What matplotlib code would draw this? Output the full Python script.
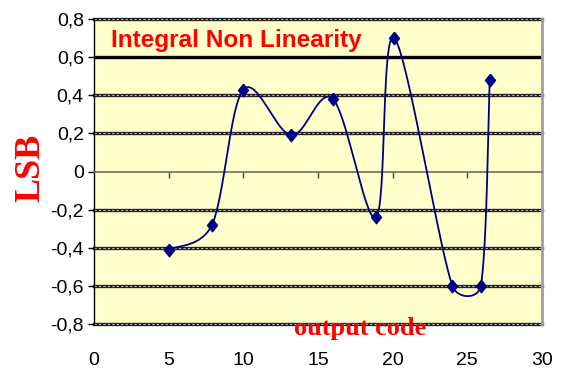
import numpy as np
import matplotlib
matplotlib.use("Agg")
import matplotlib.pyplot as plt
from matplotlib.path import Path

# INL measurement, LSB vs output code
codes = [5, 7.9, 10, 13.2, 16, 18.9, 20.1, 24, 25.9, 26.5]
inl = [-0.41, -0.28, 0.43, 0.19, 0.38, -0.24, 0.70, -0.60, -0.60, 0.48]

yticks = [-0.8, -0.6, -0.4, -0.2, 0, 0.2, 0.4, 0.6, 0.8]
ylabels = ["-0,8", "-0,6", "-0,4", "-0,2", "0", "0,2", "0,4", "0,6", "0,8"]
xticks = [0, 5, 10, 15, 20, 25, 30]
xlabels = ["0", "5", "10", "15", "20", "25", "30"]

RED = "#FF0000"
NAVY = "#000080"


def smooth_curve(pix, n=40):
    """Excel-like smoothed line: Bezier segments, tangents (P2-P0)/6,
    capped at half the segment length (works in pixel space)."""
    out = []
    last = len(pix) - 1
    for i in range(last):
        p0 = pix[max(i - 1, 0)]
        p1 = pix[i]
        p2 = pix[i + 1]
        p3 = pix[min(i + 2, last)]
        seg = np.hypot(*(p2 - p1))
        c1 = (p2 - p0) / 6.0
        c2 = (p3 - p1) / 6.0
        for c in (c1, c2):
            L = np.hypot(*c)
            if L > seg / 2:
                c *= (seg / 2) / L
        b1 = p1 + c1
        b2 = p2 - c2
        t = np.linspace(0, 1, n)[:, None]
        pts = ((1 - t) ** 3) * p1 + 3 * ((1 - t) ** 2) * t * b1 \
            + 3 * (1 - t) * t ** 2 * b2 + t ** 3 * p2
        out.append(pts if i == 0 else pts[1:])
    return np.vstack(out)


fig = plt.figure(figsize=(5.64, 3.72), dpi=100)
ax = fig.add_axes([94 / 564, 1 - 324 / 372, 448 / 564, 305 / 372])
ax.set_facecolor("#FFFFCC")
ax.set_xlim(0, 30)
ax.set_ylim(-0.8, 0.8)

# horizontal gridlines (0,6 drawn as a heavy solid line)
for y in yticks:
    if y == 0:
        continue
    if y == 0.6:
        ax.axhline(y, color="black", lw=2.4, zorder=1)
    else:
        ax.axhline(y, color="#202020", lw=2.4, zorder=1, clip_on=False)
        ax.axhline(y, color="#b8b8b8", lw=0.8, dashes=(2, 2), zorder=1.1,
                   clip_on=False)

# smoothed INL curve
pix = ax.transData.transform(np.column_stack([codes, inl]))
curve = ax.transData.inverted().transform(smooth_curve(pix))
ax.plot(curve[:, 0], curve[:, 1], color=NAVY, lw=1.3, zorder=3)

diamond = Path([(0, 1), (0.8, 0), (0, -1), (-0.8, 0), (0, 1)])
ax.plot(codes, inl, linestyle="none", marker=diamond, ms=9,
        color=NAVY, zorder=4)

# spines: x axis crosses at 0
ax.spines["top"].set_visible(False)
ax.spines["right"].set_color("#a0a0a0")
ax.spines["right"].set_linewidth(2)
ax.spines["left"].set_color("black")
ax.spines["left"].set_linewidth(1)
ax.spines["bottom"].set_position(("data", 0))
ax.spines["bottom"].set_color("#6e6e58")
ax.spines["bottom"].set_linewidth(1.2)

ax.set_xticks(xticks[1:-1])
ax.tick_params(axis="x", direction="out", length=4.3, width=1,
               color="#4a4a3a", labelbottom=False)

ax.set_yticks(yticks, labels=ylabels)
ax.tick_params(axis="y", direction="out", length=4.3, width=1, pad=3,
               labelsize=14)
for lbl in ax.get_yticklabels():
    lbl.set_fontfamily("Liberation Sans")

sec = ax.secondary_xaxis(0)
sec.set_xticks(xticks, labels=xlabels)
sec.tick_params(length=0, pad=20, labelsize=14)
sec.spines["bottom"].set_visible(False)
for lbl in sec.get_xticklabels():
    lbl.set_fontfamily("Liberation Sans")

ax.text(0.038, 0.907, "Integral Non Linearity", transform=ax.transAxes,
        color=RED, fontsize=17.6, fontweight="bold", family="Liberation Sans",
        ha="left", va="baseline", zorder=5)
ax.text(0.594, -0.036, "output code", transform=ax.transAxes,
        color=RED, fontsize=19, fontweight="bold", family="Liberation Serif",
        ha="center", va="baseline", clip_on=False, zorder=5)
fig.text(31 / 564, 1 - 168 / 372, "LSB", rotation=90, color=RED,
         fontsize=26, fontweight="bold", family="Liberation Serif",
         ha="center", va="center")

fig.savefig("out.png", dpi=100, facecolor="white")
